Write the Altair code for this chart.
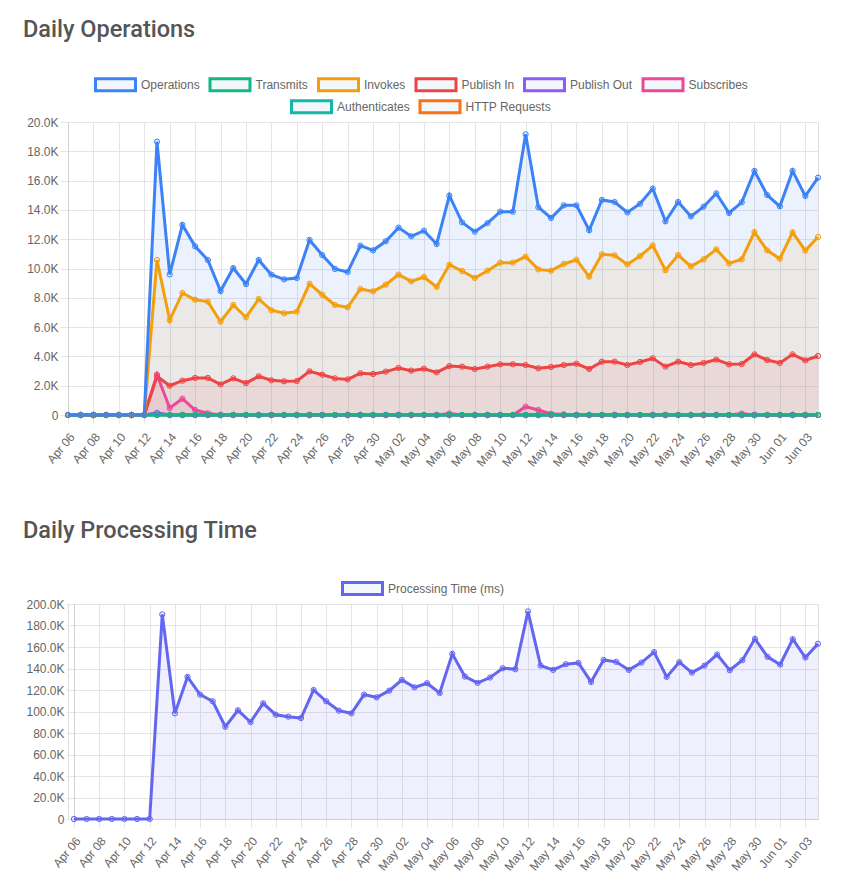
import altair as alt
import pandas as pd

# Calendar days on the x axis (one point per day) and the every-other-day tick labels
days = [d.strftime("%b %d") for d in pd.date_range("2024-04-06", "2024-06-04", freq="D")]
tick_days = days[::2]

operations = [
    0, 0, 0, 0, 0, 0, 0,
    18660, 9600, 12970, 11510, 10580, 8460, 10030, 8940, 10580, 9580, 9260, 9350,
    11950, 10920, 9970, 9760, 11560, 11240, 11860, 12790, 12200, 12580,
    11670, 14970, 13150, 12510, 13100, 13880, 13880, 19160, 14180, 13450, 14310,
    14310, 12610, 14680, 14540, 13830, 14420, 15450, 13220, 14540, 13560, 14220,
    15130, 13790, 14520, 16660, 15020, 14240, 16660, 14950, 16200,
]
transmits = [
    0, 0, 0, 0, 0, 0, 0, 0, 0, 0, 0, 0, 0, 0, 0, 0, 0, 0, 0, 0,
    0, 0, 0, 0, 0, 0, 0, 0, 0, 0, 0, 0, 0, 0, 0, 0, 0, 0, 0, 0,
    0, 0, 0, 0, 0, 0, 0, 0, 0, 0, 0, 0, 0, 0, 0, 0, 0, 0, 0, 0,
]
invokes = [
    0, 0, 0, 0, 0, 0, 0,
    10580, 6480, 8330, 7870, 7740, 6370, 7510, 6670, 7920, 7150, 6940, 7050,
    8960, 8210, 7510, 7350, 8600, 8440, 8900, 9580, 9120, 9420,
    8740, 10260, 9830, 9350, 9850, 10400, 10400, 10810, 9940, 9850, 10310,
    10600, 9440, 10970, 10900, 10280, 10850, 11580, 9880, 10920, 10150, 10630,
    11310, 10350, 10630, 12490, 11240, 10670, 12470, 11220, 12150,
]
publish_in = [
    0, 0, 0, 0, 0, 0, 0,
    2650, 2000, 2340, 2530, 2530, 2090, 2500, 2180, 2640, 2370, 2300, 2320,
    2980, 2750, 2500, 2430, 2850, 2800, 2960, 3210, 3030, 3160,
    2910, 3340, 3300, 3140, 3300, 3460, 3460, 3410, 3190, 3280, 3410,
    3500, 3140, 3640, 3640, 3410, 3620, 3870, 3300, 3640, 3410, 3550,
    3780, 3460, 3480, 4140, 3750, 3550, 4140, 3730, 4030,
]
publish_out = [
    0, 0, 0, 0, 0, 0, 0, 150, 0, 0, 0, 0, 0, 0, 0, 0, 0, 0, 0, 0,
    0, 0, 0, 0, 0, 0, 0, 0, 0, 0, 0, 0, 0, 0, 0, 0, 0, 0, 0, 0,
    0, 0, 0, 0, 0, 0, 0, 0, 0, 0, 0, 0, 0, 0, 0, 0, 0, 0, 0, 0,
]
subscribes = [
    0, 0, 0, 0, 0, 0, 0, 2750, 480, 1110, 340, 120, 0, 0, 0, 0, 0, 0, 0, 0,
    0, 0, 0, 0, 0, 0, 0, 0, 0, 0, 100, 0, 0, 0, 0, 0, 570, 340, 80, 40,
    0, 0, 0, 0, 0, 0, 0, 0, 0, 0, 0, 0, 0, 100, 0, 0, 0, 0, 0, 0,
]
authenticates = [
    0, 0, 0, 0, 0, 0, 0, 0, 0, 0, 0, 0, 0, 0, 0, 0, 0, 0, 0, 0,
    0, 0, 0, 0, 0, 0, 0, 0, 0, 0, 0, 0, 0, 0, 0, 0, 0, 0, 0, 0,
    0, 0, 0, 0, 0, 0, 0, 0, 0, 0, 0, 0, 0, 0, 0, 0, 0, 0, 0, 0,
]
http_requests = [
    0, 0, 0, 0, 0, 0, 0, 0, 0, 0, 0, 0, 0, 0, 0, 0, 0, 0, 0, 0,
    0, 0, 0, 0, 0, 0, 0, 0, 0, 0, 0, 0, 0, 0, 0, 0, 0, 0, 0, 0,
    0, 0, 0, 0, 0, 0, 0, 0, 0, 0, 0, 0, 0, 0, 0, 0, 0, 0, 0, 0,
]
processing_ms = [
    0, 0, 0, 0, 0, 0, 0,
    190300, 98300, 132200, 115700, 109500, 85800, 101100, 90200, 107600, 97000,
    95200, 93900, 120000, 109500, 100800, 98300, 115700, 113200, 119400, 129400,
    122500, 126300,
    117200, 153600, 132500, 126600, 131600, 140300, 139300, 193100, 142700,
    138700, 144000, 145200, 127500, 148000, 146200, 138700, 145500, 155200,
    132200, 145900, 136200, 142700, 153000, 138400, 147700, 167600, 150800,
    143700, 167300, 150200, 163000,
]

series_values = {
    "Operations": operations,
    "Transmits": transmits,
    "Invokes": invokes,
    "Publish In": publish_in,
    "Publish Out": publish_out,
    "Subscribes": subscribes,
    "Authenticates": authenticates,
    "HTTP Requests": http_requests,
}
series_colors = {
    "Operations": "#3b82f6",
    "Transmits": "#10b981",
    "Invokes": "#f59e0b",
    "Publish In": "#ef4444",
    "Publish Out": "#8b5cf6",
    "Subscribes": "#ec4899",
    "Authenticates": "#14b8a6",
    "HTTP Requests": "#f97316",
}
legend_row_1 = ["Operations", "Transmits", "Invokes", "Publish In", "Publish Out", "Subscribes"]
legend_row_2 = ["Authenticates", "HTTP Requests"]
# first series in the legend is painted last (on top)
paint_order = list(reversed(legend_row_1 + legend_row_2))

LABEL_FONT = "Liberation Sans"
LABEL_COLOR = "#666"
GRID = "#e5e5e5"
BOX = "M-1,-0.3H1V0.3H-1Z"
PLOT_W = 750


def long_table(names):
    rows = []
    for name in names:
        for day, value in zip(days, series_values[name]):
            rows.append({"day": day, "series": name, "value": value})
    return pd.DataFrame(rows)


def legend(x, y):
    return alt.Legend(
        orient="none", legendX=x, legendY=y, direction="horizontal", title=None,
        symbolType=BOX, symbolSize=1600, symbolStrokeWidth=3,
        symbolFillColor="#f3f6fa", symbolOpacity=1,
        labelFont=LABEL_FONT, labelFontSize=12, labelColor=LABEL_COLOR,
        labelOffset=4, columnPadding=3.5,
    )


def x_enc(inset=0):
    # inset leaves room on the left for a wider y-axis label column
    return alt.X(
        "day:O", sort=days, title=None,
        scale=alt.Scale(type="point", padding=0, range=[inset, PLOT_W]),
        axis=alt.Axis(values=tick_days, labelAngle=-50, labelAlign="right",
                      labelBaseline="top", labelPadding=8, labelOverlap=False,
                      labelFont=LABEL_FONT, labelFontSize=12, labelColor=LABEL_COLOR,
                      tickSize=8, tickColor=GRID, gridColor=GRID, domainColor="#d0d0d0",
                      grid=True),
    )


def y_enc(top, step, inset=0):
    return alt.Y(
        "value:Q", title=None, stack=None,
        scale=alt.Scale(domain=[0, top], nice=False, zero=True),
        axis=alt.Axis(values=list(range(0, top + 1, step)), tickSize=8, labelPadding=2,
                      offset=-inset,
                      labelFont=LABEL_FONT, labelFontSize=12, labelColor=LABEL_COLOR,
                      tickColor=GRID, gridColor=GRID, domainColor="#d0d0d0",
                      labelExpr="datum.value == 0 ? '0' : format(datum.value / 1000, '.1f') + 'K'"),
    )


def title(text, offset):
    return alt.TitleParams(text, anchor="start", frame="group", dx=-45, offset=offset,
                           font="Roboto", fontSize=23.5, fontWeight=500, color="#555")


# ---- Daily Operations ----
all_df = long_table(paint_order)
row2_df = long_table([n for n in paint_order if n in legend_row_2])
row1_df = long_table([n for n in paint_order if n in legend_row_1])

fill_scale = alt.Scale(domain=list(series_colors), range=list(series_colors.values()))
row1_scale = alt.Scale(domain=legend_row_1, range=[series_colors[n] for n in legend_row_1])
row2_scale = alt.Scale(domain=legend_row_2, range=[series_colors[n] for n in legend_row_2])

ops_y = y_enc(20000, 2000)

areas = alt.Chart(all_df).mark_area(fillOpacity=0.1).encode(
    x=x_enc(), y=ops_y, fill=alt.Fill("series:N", scale=fill_scale, legend=None)
)
lines_2 = alt.Chart(row2_df).mark_line(strokeWidth=3).encode(
    x=x_enc(), y=ops_y,
    color=alt.Color("series:N", scale=row2_scale, legend=legend(222, -37)),
)
points_2 = alt.Chart(row2_df).mark_point(filled=False, size=28, strokeWidth=1, fillOpacity=0.1).encode(
    x=x_enc(), y=ops_y,
    color=alt.Color("series:N", scale=row2_scale, legend=None),
    fill=alt.Fill("series:N", scale=fill_scale, legend=None),
)
lines_1 = alt.Chart(row1_df).mark_line(strokeWidth=3).encode(
    x=x_enc(), y=ops_y,
    stroke=alt.Stroke("series:N", scale=row1_scale, legend=legend(26, -59)),
)
points_1 = alt.Chart(row1_df).mark_point(filled=True, size=28, strokeWidth=1, fillOpacity=0.1).encode(
    x=x_enc(), y=ops_y,
    stroke=alt.Stroke("series:N", scale=row1_scale, legend=None),
    fill=alt.Fill("series:N", scale=fill_scale, legend=None),
)

operations_chart = alt.layer(areas, lines_2, points_2, lines_1, points_1).properties(
    width=PLOT_W, height=293, title=title("Daily Operations", 22)
)

# ---- Daily Processing Time ----
proc_name = "Processing Time (ms)"
proc_color = "#6366f1"
proc_df = pd.DataFrame({"day": days, "series": proc_name, "value": processing_ms})
proc_scale = alt.Scale(domain=[proc_name], range=[proc_color])
INSET = 6
proc_x = x_enc(INSET)
proc_y = y_enc(200000, 20000, INSET)

proc_area = alt.Chart(proc_df).mark_area(fillOpacity=0.1, color=proc_color).encode(x=proc_x, y=proc_y)
proc_line = alt.Chart(proc_df).mark_line(strokeWidth=3).encode(
    x=proc_x, y=proc_y,
    color=alt.Color("series:N", scale=proc_scale, legend=legend(273, -37)),
)
proc_points = alt.Chart(proc_df).mark_point(filled=False, size=28, strokeWidth=1, fill=proc_color,
                                             fillOpacity=0.1).encode(
    x=proc_x, y=proc_y,
    color=alt.Color("series:N", scale=proc_scale, legend=None),
)

processing_chart = alt.layer(proc_area, proc_line, proc_points).properties(
    width=PLOT_W, height=215, title=title("Daily Processing Time", 25)
)

chart = (
    alt.concat(operations_chart, processing_chart, columns=1, spacing=49)
    .resolve_scale(x="independent", y="independent", color="independent",
                   fill="independent", stroke="independent")
    .properties(padding={"left": 22, "top": 17, "right": 5, "bottom": 5})
    .configure_view(stroke=None)
    .configure(background="white")
)

chart.save("out.html", embed_options={"renderer": "svg", "actions": False})
